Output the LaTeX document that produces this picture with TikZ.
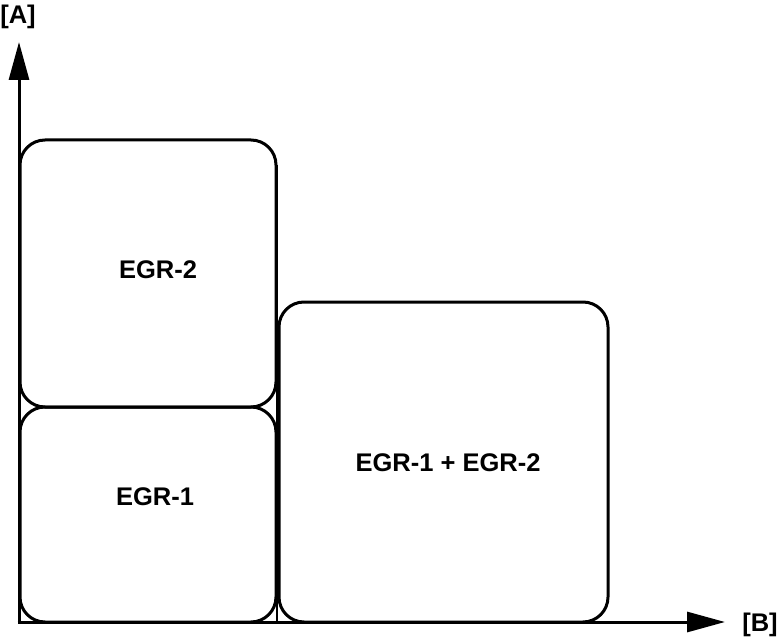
\documentclass[tikz,border=0pt]{standalone}
\usepackage{fontspec}
\setmainfont{Liberation Sans}
\usetikzlibrary{arrows.meta}
\tikzstyle{axisline}=[line width=3pt,-{Triangle[length=38pt,width=20pt]}]
\tikzstyle{regionbox}=[draw,line width=3pt,rounded corners=25pt,inner sep=0pt]
\tikzstyle{regionlabel}=[font=\fontsize{25.5}{30}\selectfont\bfseries]
\tikzstyle{divider}=[line width=2pt]

\begin{document}
\begin{tikzpicture}[x=1pt,y=-1pt]
\useasboundingbox (0,0) rectangle (781,644);

\coordinate (Xstart) at (17.5,622);
\coordinate (Xend) at (725,622);
\coordinate (Ystart) at (19,623.5);
\coordinate (Yend) at (19,42);
\coordinate (Dtop) at (277,165);
\coordinate (Dbottom) at (277,622);

\node[regionbox,minimum width=256pt,minimum height=267pt] (R2) at (148,273.5) {};
\node[regionbox,minimum width=256pt,minimum height=215pt] (R1) at (148,514.5) {};
\node[regionbox,minimum width=329pt,minimum height=320pt] (R12) at (443.5,462) {};

\node[regionlabel] (L2) at (158,270) {EGR-2};
\node[regionlabel] (L1) at (155,497) {EGR-1};
\node[regionlabel] (L12) at (448,463) {EGR-1 + EGR-2};

\draw[divider] (Dtop) -- (Dbottom);

\draw[axisline] (Xstart) -- (Xend);
\draw[axisline] (Ystart) -- (Yend);

\node[regionlabel] (A) at (18,17) {[A]};
\node[regionlabel] (B) at (760,625) {[B]};

\end{tikzpicture}
\end{document}
